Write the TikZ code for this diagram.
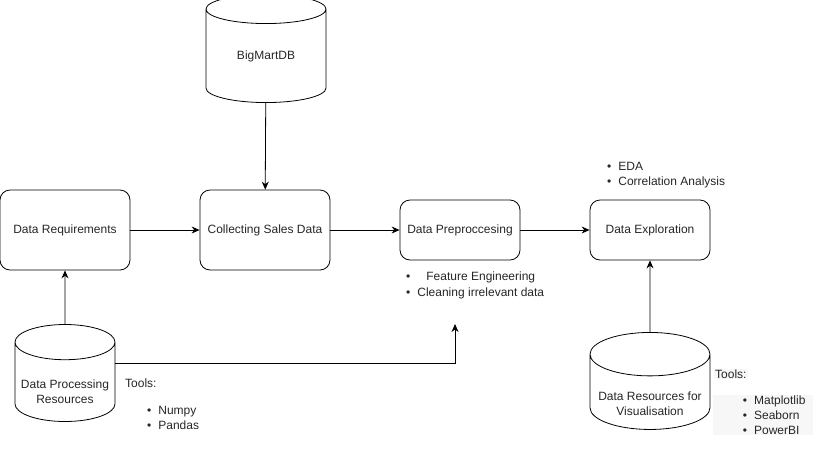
\documentclass[tikz,border=0pt]{standalone}
\usepackage{fontspec}
\setmainfont{Liberation Sans}
\usetikzlibrary{shapes.geometric, arrows.meta}

\begin{document}
\begin{tikzpicture}[x=1pt, y=-1pt,
    every node/.style={font=\fontsize{12}{15}\selectfont, text=black!85},
    stage/.style={draw, rounded corners=10pt, line width=0.8pt, align=center, inner sep=0pt},
    store/.style={draw, cylinder, shape border rotate=90, line width=0.8pt, align=center, inner sep=0pt},
    note/.style={anchor=west, align=left, inner sep=1pt},
    flow/.style={-{Stealth[length=8pt,width=7pt]}, line width=0.8pt},
    text=black]
  \useasboundingbox (0,0) rectangle (821,451);
  % main stages
  \node[stage, minimum width=130pt, minimum height=80pt] (req) at (65,230) {Data Requirements};
  \node[stage, minimum width=130pt, minimum height=80pt] (collect) at (265,230) {Collecting Sales Data};
  \node[stage, minimum width=120pt, minimum height=60pt] (prep) at (460,230) {Data Preproccesing};
  \node[stage, minimum width=120pt, minimum height=60pt] (explore) at (650,230) {Data Exploration};
  % data stores
  \node[store, aspect=0.5, minimum width=120pt, minimum height=108pt] (bigmart) at (266,56) {BigMartDB};
  \node[store, aspect=0.4, minimum width=100pt, minimum height=97pt] (procres) at (65,382)
    {\raisebox{-14pt}[0pt][0pt]{\begin{tabular}{@{}c@{}}Data Processing\\Resources\end{tabular}}};
  \node[store, aspect=0.42, minimum width=120pt, minimum height=97pt] (visres) at (650,392)
    {\raisebox{-16pt}[0pt][0pt]{\begin{tabular}{@{}c@{}}Data Resources for\\Visualisation\end{tabular}}};
  % notes
  \node[note] (edalist) at (606,175.5) {\textbullet\hspace{7pt}EDA\\\textbullet\hspace{7pt}Correlation Analysis};
  \node[note, font=\fontsize{12}{16}\selectfont] (preplist) at (405,285) {\textbullet\hspace{16pt}Feature Engineering\\\textbullet\hspace{7pt}Cleaning irrelevant data};
  \node[note] (tools1) at (124,383) {Tools:};
  \node[note] (toollist1) at (146,417.5) {\textbullet\hspace{7pt}Numpy\\\textbullet\hspace{7pt}Pandas};
  \node[note, fill=black!3] (tools2) at (714,374) {Tools:};
  \node[note, fill=black!3, minimum width=100pt] (toollist2) at (713,415) {\hspace{22pt}\textbullet\hspace{7pt}Matplotlib\\\hspace{22pt}\textbullet\hspace{7pt}Seaborn\\\hspace{22pt}\textbullet\hspace{7pt}PowerBI};
  \coordinate (cleanin) at (455,324);
  % connectors
  \draw[flow] (req) -- (collect);
  \draw[flow] (collect) -- (prep);
  \draw[flow] (prep) -- (explore);
  \draw[flow] (bigmart) -- (collect);
  \draw[flow] (procres) -- (req);
  \draw[flow] (visres) -- (explore);
  \draw[flow] ([yshift=19pt]procres.east) -| (cleanin);
\end{tikzpicture}
\end{document}
